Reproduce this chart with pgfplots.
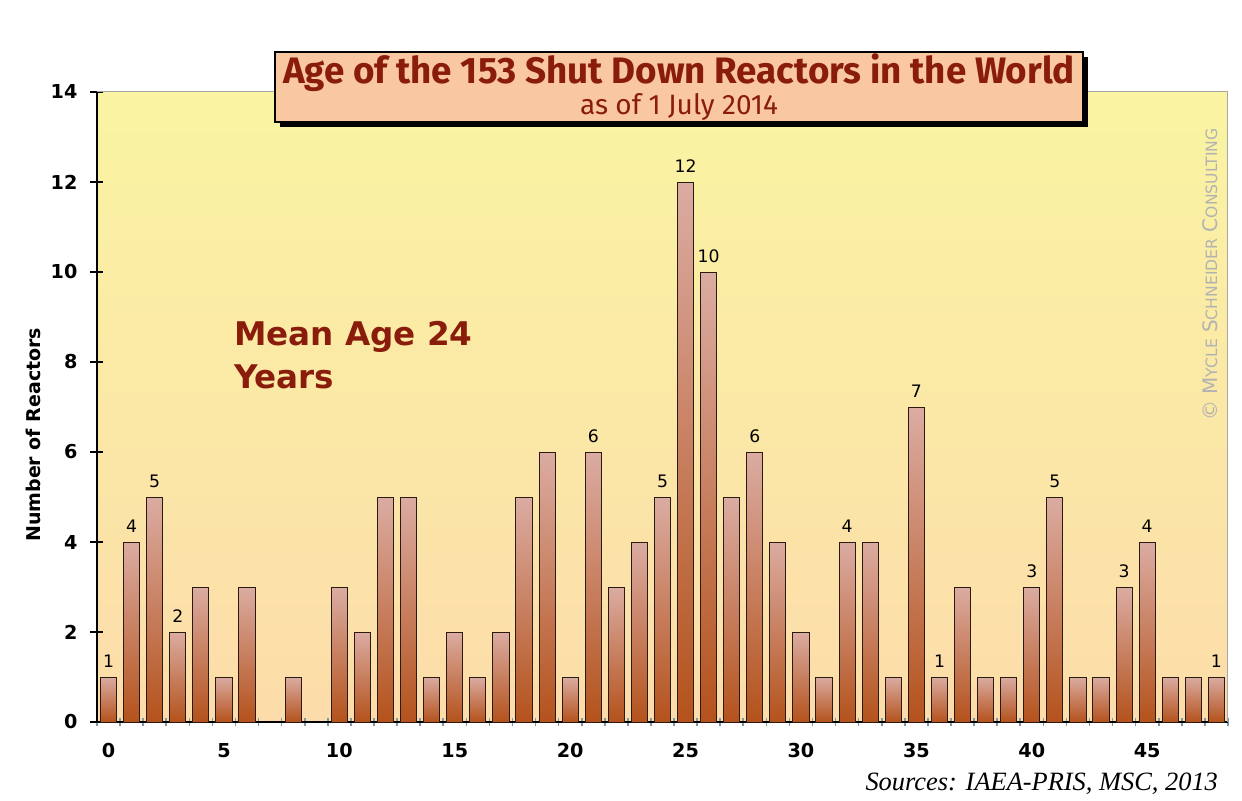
\documentclass[border=0pt]{standalone}
\usepackage{fontspec}
\setmainfont{DejaVu Sans}
\newfontfamily\titlefont{Fira Sans}
\newfontfamily\srcfont{Liberation Serif}
\usepackage{pgfplots}
\pgfplotsset{compat=1.18}
\usetikzlibrary{shadows}
\definecolor{bgtop}{HTML}{FAF4A2}
\definecolor{bgbot}{HTML}{FCDCAA}
\definecolor{bartop}{HTML}{DBACA2}
\definecolor{barbot}{HTML}{B4521C}
\definecolor{barline}{HTML}{2A1A10}
\definecolor{titlebg}{HTML}{F9C8A0}
\definecolor{darkred}{HTML}{8A1C0C}
\definecolor{tickblue}{HTML}{7E98A4}
% one plot per bar, so that each bar gets its own gradient
\newcommand{\agebar}[2]{\addplot[draw=barline, line width=0.5pt, top color=bartop, bottom color=barbot] coordinates {(#1,#2)};}
\begin{document}
\begin{tikzpicture}
\begin{axis}[
  name=ax, scale only axis, width=565.5pt, height=315pt,
  xmin=-0.5, xmax=48.5, ymin=0, ymax=14,
  ybar, bar width=0.7, bar shift=0pt,
  /pgf/number format/assume math mode=true,
  axis background/.style={top color=bgtop, bottom color=bgbot},
  axis x line*=bottom, axis y line*=left,
  axis line style={-, black, line width=0.9pt},
  xtick={0,5,...,45}, major x tick style={draw=none},
  minor xtick={-0.5,0.5,...,48.5},
  minor x tick style={tickblue, line width=0.8pt},
  minor tick length=4pt,
  ytick={0,2,...,14}, major tick length=6.5pt, tick align=center,
  y tick style={black, line width=0.8pt},
  tick label style={font=\fontsize{9.6}{10}\bfseries\selectfont},
  xticklabel style={yshift=-4pt},
  yticklabel style={xshift=-3pt},
  clip=false]
\agebar{0}{1} \agebar{1}{4} \agebar{2}{5} \agebar{3}{2} \agebar{4}{3}
\agebar{5}{1} \agebar{6}{3} \agebar{8}{1}
\agebar{10}{3} \agebar{11}{2} \agebar{12}{5} \agebar{13}{5} \agebar{14}{1}
\agebar{15}{2} \agebar{16}{1} \agebar{17}{2} \agebar{18}{5} \agebar{19}{6}
\agebar{20}{1} \agebar{21}{6} \agebar{22}{3} \agebar{23}{4} \agebar{24}{5}
\agebar{25}{12} \agebar{26}{10} \agebar{27}{5} \agebar{28}{6} \agebar{29}{4}
\agebar{30}{2} \agebar{31}{1} \agebar{32}{4} \agebar{33}{4} \agebar{34}{1}
\agebar{35}{7} \agebar{36}{1} \agebar{37}{3} \agebar{38}{1} \agebar{39}{1}
\agebar{40}{3} \agebar{41}{5} \agebar{42}{1} \agebar{43}{1} \agebar{44}{3}
\agebar{45}{4} \agebar{46}{1} \agebar{47}{1} \agebar{48}{1}
\addplot[draw=none, fill=none, nodes near coords,
  every node near coord/.style={font=\fontsize{8.6}{9}\selectfont, black, yshift=1pt}] coordinates {
(0,1) (1,4) (2,5) (3,2) (21,6) (24,5) (25,12) (26,10) (28,6)
(32,4) (35,7) (36,1) (40,3) (41,5) (44,3) (45,4) (48,1)};
\draw[gray!70, line width=0.5pt] (rel axis cs:0,1) -- (rel axis cs:1,1) -- (rel axis cs:1,0);
\node[rotate=90, font=\fontsize{9.5}{11}\bfseries\selectfont] at (rel axis cs:-0.0566,0.456) {Number of Reactors};
\node[anchor=north west, align=left, text=darkred, font=\fontsize{16.3}{21.5}\bfseries\selectfont]
  at (rel axis cs:0.115,0.648) {Mean Age 24\\Years};
\node[rotate=90, text=black!30, font=\fontsize{10}{11}\selectfont] at (rel axis cs:0.984,0.71)
  {\copyright{} M{\fontsize{7.8}{9}\selectfont YCLE} S{\fontsize{7.8}{9}\selectfont CHNEIDER} C{\fontsize{7.8}{9}\selectfont ONSULTING}};
\end{axis}
\node[draw=black, line width=0.8pt, fill=titlebg, minimum width=404pt, minimum height=35pt,
  drop shadow={shadow xshift=2.5pt, shadow yshift=-2.5pt, fill=black, opacity=1},
  align=center, inner sep=0pt]
  at ([shift={(291pt,2.5pt)}]ax.north west)
  {{\titlefont\bfseries\fontsize{18.4}{19}\selectfont\color{darkred}Age of the 153 Shut Down Reactors in the World}\\[0pt]
   {\titlefont\fontsize{14}{14}\selectfont\color{darkred}as of 1 July 2014}};
\node[anchor=base east, font=\srcfont\itshape\fontsize{13.2}{14}\selectfont]
  at ([shift={(-1.5pt,-34pt)}]ax.south east) {Sources: IAEA-PRIS, MSC, 2013};
\path ([shift={(-48.5pt,-38.5pt)}]ax.south west) rectangle ++(621pt,399.5pt);
\end{tikzpicture}
\end{document}
